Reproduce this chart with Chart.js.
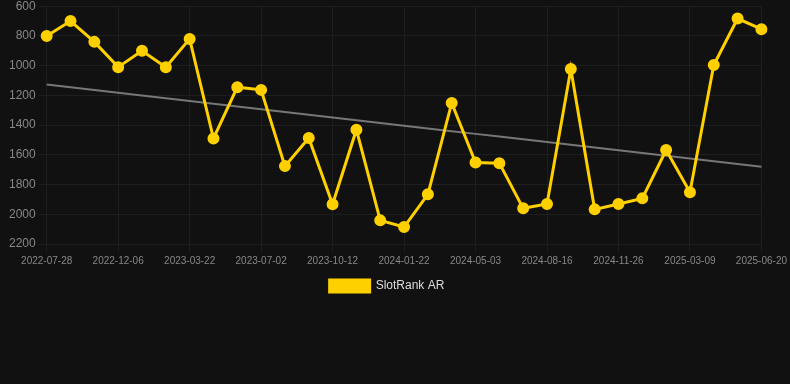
<!DOCTYPE html>
<html><head><meta charset="utf-8">
<script src="https://cdn.jsdelivr.net/npm/chart.js@4"></script>
<style>
html,body{margin:0;padding:0;background:#111111;overflow:hidden;}
#wrap{position:relative;top:-4px;width:790px;height:306px;}
</style></head>
<body>
<div id="wrap"><canvas id="c"></canvas></div>
<script>
const dates = ["2022-07-28","2022-09-10","2022-10-24","2022-12-06","2023-01-11","2023-02-15","2023-03-22","2023-04-26","2023-05-30","2023-07-02","2023-08-05","2023-09-08","2023-10-12","2023-11-15","2023-12-19","2024-01-22","2024-02-25","2024-03-30","2024-05-03","2024-06-06","2024-07-11","2024-08-16","2024-09-19","2024-10-23","2024-11-26","2024-12-30","2025-02-02","2025-03-09","2025-04-12","2025-05-16","2025-06-20"];
const rankAR = [800,700,840,1010,900,1010,820,1490,1145,1163,1676,1487,1933,1431,2041,2086,1866,1251,1652,1656,1960,1931,1023,1967,1931,1893,1568,1852,996,683,755];
const yTicks = [600,800,1000,1200,1400,1600,1800,2000,2200];

// least-squares trend of the series
const n = rankAR.length;
const mx = (n-1)/2;
const my = rankAR.reduce((a,b)=>a+b,0)/n;
let sxy=0, sxx=0;
rankAR.forEach((v,i)=>{sxy+=(i-mx)*(v-my); sxx+=(i-mx)*(i-mx);});
const slope = sxy/sxx;
const trend = rankAR.map((v,i)=> my + slope*(i-mx));

new Chart(document.getElementById('c'), {
  type: 'line',
  data: {
    labels: dates,
    datasets: [
      {
        label: 'SlotRank AR',
        data: rankAR,
        borderColor: '#FFD000',
        backgroundColor: '#FFD000',
        borderWidth: 3,
        pointRadius: 4.5,
        pointHoverRadius: 4.5,
        pointBackgroundColor: '#FFD000',
        pointBorderColor: '#FFD000',
        tension: 0
      },
      {
        label: 'trend',
        data: trend,
        borderColor: '#777777',
        borderWidth: 2,
        pointRadius: 0,
        fill: false
      }
    ]
  },
  options: {
    responsive: true,
    maintainAspectRatio: false,
    animation: false,
    layout: { padding: { left: 6, right: 22, top: 0, bottom: 0 } },
    plugins: {
      legend: {
        position: 'bottom',
        labels: {
          color: '#dddddd',
          font: { family: 'Liberation Sans, Arial, sans-serif', size: 12 },
          boxWidth: 40,
          boxHeight: 12,
          filter: (item) => item.text !== 'trend'
        }
      },
      tooltip: { enabled: false }
    },
    scales: {
      x: {
        grid: {
          color: (ctx) => (ctx.index % 3 === 0 ? '#1e1e1e' : 'rgba(0,0,0,0)'),
          tickLength: 8
        },
        border: { color: '#1e1e1e' },
        ticks: {
          color: '#888888',
          font: { family: 'Liberation Sans, Arial, sans-serif', size: 10 },
          autoSkip: false,
          maxRotation: 0,
          padding: 3,
          callback: function(val, idx){ return idx % 3 === 0 ? this.getLabelForValue(val) : ''; }
        }
      },
      y: {
        reverse: true,
        min: yTicks[0],
        max: yTicks[yTicks.length-1],
        afterBuildTicks: (axis) => { axis.ticks = yTicks.map(v => ({value: v})); },
        grid: { color: '#1e1e1e', tickLength: 8 },
        border: { color: '#1e1e1e' },
        ticks: {
          color: '#888888',
          font: { family: 'Liberation Sans, Arial, sans-serif', size: 12 },
          padding: 3,
          callback: (v) => String(v)
        }
      }
    }
  }
});
</script>
</body></html>
